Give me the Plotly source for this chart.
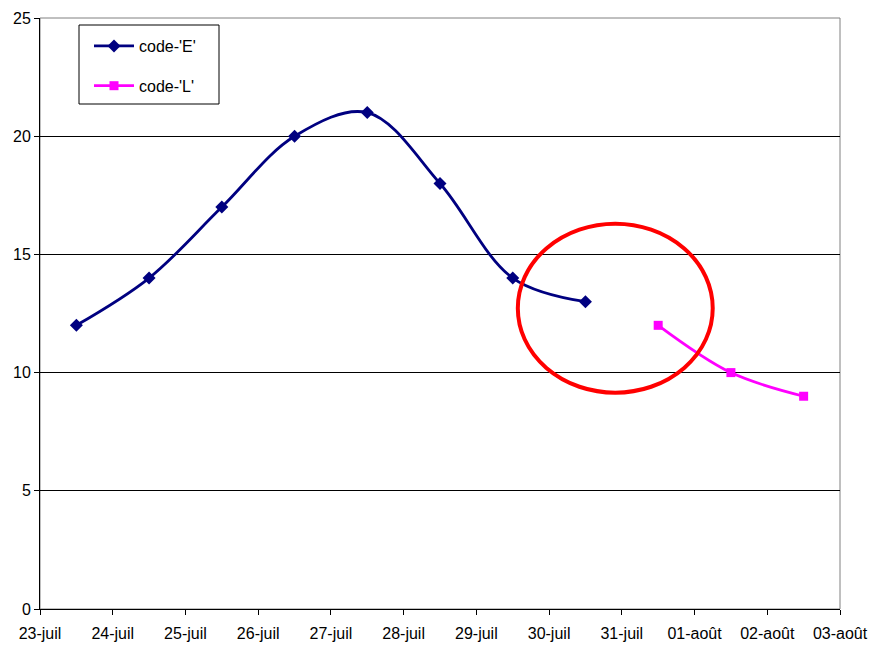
import plotly.graph_objects as go

tick_labels = ["23-juil", "24-juil", "25-juil", "26-juil", "27-juil", "28-juil",
               "29-juil", "30-juil", "31-juil", "01-août", "02-août", "03-août"]
tick_pos = list(range(len(tick_labels)))

e_x = [0.5, 1.5, 2.5, 3.5, 4.5, 5.5, 6.5, 7.5]
e_y = [12, 14, 17, 20, 21, 18, 14, 13]
l_x = [8.5, 9.5, 10.5]
l_y = [12, 10, 9]

fig = go.Figure()
fig.add_trace(go.Scatter(x=e_x, y=e_y, name="code-'E'", mode="lines+markers",
                         line=dict(color="#000080", width=2.8, shape="spline", smoothing=1.0),
                         marker=dict(symbol="diamond", size=10, color="#000080"),
                         legendgroup="e"))
fig.add_trace(go.Scatter(x=l_x, y=l_y, name="code-'L'", mode="lines+markers",
                         line=dict(color="#FF00FF", width=2.8, shape="spline", smoothing=1.0),
                         marker=dict(symbol="square", size=9, color="#FF00FF"),
                         legendgroup="l"))

# gray frame (top/right)
fig.add_shape(type="rect", xref="paper", yref="paper", x0=0, x1=1, y0=0, y1=1,
              line=dict(color="#808080", width=1), layer="below")
# legend box
fig.add_shape(type="rect", xref="paper", yref="paper",
              x0=(79 - 40) / 800, x1=(219 - 40) / 800,
              y0=(609 - 104) / 591, y1=(609 - 25) / 591,
              line=dict(color="black", width=1), fillcolor="white", layer="below")
# red ellipse
fig.add_shape(type="circle", xref="x", yref="y", x0=6.57, x1=9.25, y0=9.15, y1=16.3,
              line=dict(color="#FF0000", width=4))

fig.update_layout(
    width=869, height=646,
    margin=dict(l=40, r=29, t=18, b=37),
    paper_bgcolor="white", plot_bgcolor="white",
    font=dict(family="Liberation Sans, Arial, sans-serif", size=16, color="black"),
    legend=dict(x=(89 - 40) / 800, y=(609 - 29) / 591, xanchor="left", yanchor="top",
                borderwidth=0, bgcolor="rgba(0,0,0,0)",
                traceorder="grouped", tracegroupgap=16, itemwidth=40,
                font=dict(size=16)),
    showlegend=True,
)
fig.update_xaxes(range=[0, 11], tickmode="array", tickvals=tick_pos, ticktext=tick_labels,
                 showgrid=False, showline=True, linecolor="black", linewidth=1,
                 ticks="outside", ticklen=5, tickcolor="black", zeroline=False,
                 ticklabelstandoff=5,
                 automargin=False, tickfont=dict(size=16))
fig.update_yaxes(range=[0, 25], tickmode="array", tickvals=[0, 5, 10, 15, 20, 25],
                 showgrid=True, gridcolor="black", gridwidth=1,
                 showline=True, linecolor="black", linewidth=1,
                 ticks="outside", ticklen=5, tickcolor="black", zeroline=False,
                 automargin=False, tickfont=dict(size=16))

fig.write_html("out.html", config={"displayModeBar": False},
               post_script="document.body.style.margin='0';document.body.style.overflow='hidden';")
